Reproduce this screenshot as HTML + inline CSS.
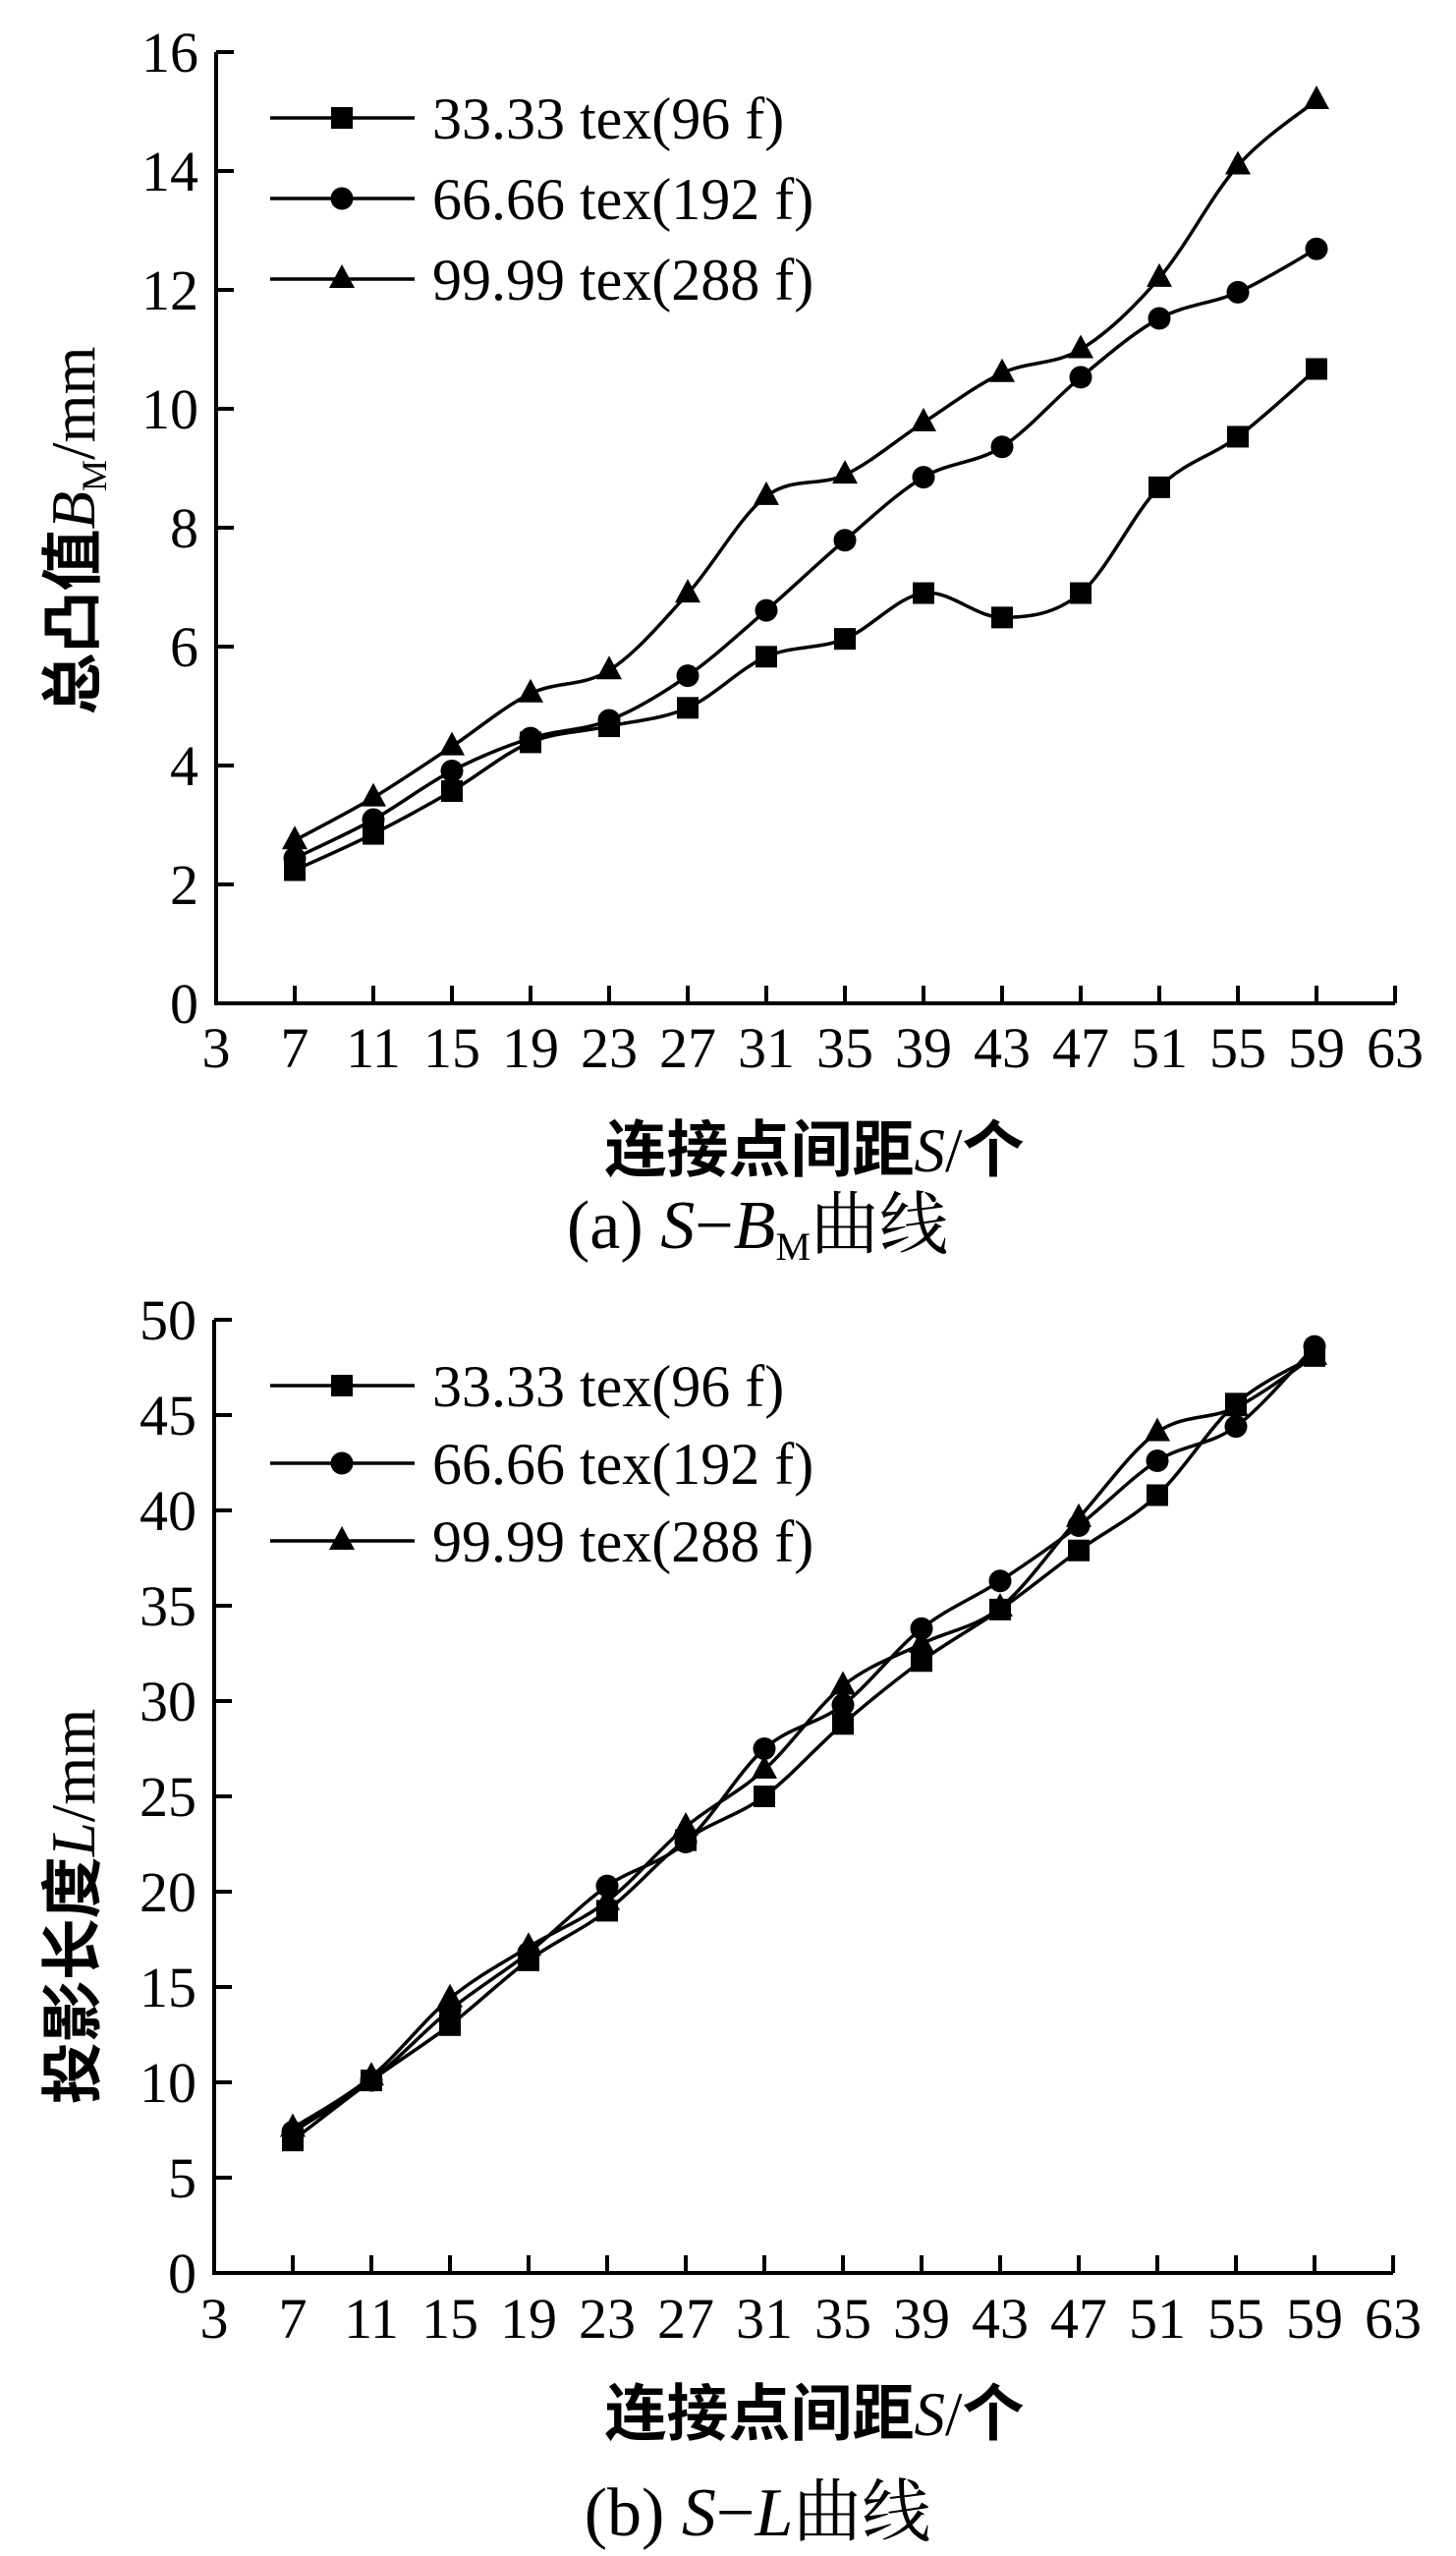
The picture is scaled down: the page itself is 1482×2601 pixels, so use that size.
<!DOCTYPE html>
<html><head><meta charset="utf-8"><style>
html,body{margin:0;padding:0;background:#fff}
svg{display:block}
text{font-family:"Liberation Serif","Noto Serif CJK SC",serif;fill:#000}
.t{font-size:58px}
.lg{font-size:60px}
.ti{font-size:63px;font-weight:bold;font-family:"Liberation Serif","Noto Sans CJK SC",sans-serif}
.cap{font-size:70px;font-family:"Liberation Serif","Noto Serif CJK SC",serif}
</style></head><body>
<svg id="s" width="1482" height="2601" viewBox="0 0 1482 2601" xmlns="http://www.w3.org/2000/svg">
<g id="ga"></g><g id="gb"></g>
<g class="t" text-anchor="end">
<text x="202" y="1041">0</text><text x="202" y="920">2</text><text x="202" y="799">4</text><text x="202" y="678">6</text><text x="202" y="557">8</text><text x="202" y="436">10</text><text x="202" y="315">12</text><text x="202" y="194">14</text><text x="202" y="73">16</text>
</g>
<g class="t" text-anchor="middle">
<text x="220" y="1086">3</text><text x="300" y="1086">7</text><text x="380" y="1086">11</text><text x="460" y="1086">15</text><text x="540" y="1086">19</text><text x="620" y="1086">23</text><text x="700" y="1086">27</text><text x="780" y="1086">31</text><text x="860" y="1086">35</text><text x="940" y="1086">39</text><text x="1020" y="1086">43</text><text x="1100" y="1086">47</text><text x="1180" y="1086">51</text><text x="1260" y="1086">55</text><text x="1340" y="1086">59</text><text x="1420" y="1086">63</text>
</g>
<g class="lg"><text x="440" y="141">33.33 tex(96 f)</text><text x="440" y="223">66.66 tex(192 f)</text><text x="440" y="305">99.99 tex(288 f)</text></g>
<text class="ti" transform="translate(96,540) rotate(-90)" text-anchor="middle">总凸值<tspan font-style="italic" font-weight="normal" font-family="Liberation Serif">B</tspan><tspan font-size="36" dy="12" font-weight="normal" font-family="Liberation Serif">M</tspan><tspan dy="-12" font-weight="normal" font-family="Liberation Serif">/mm</tspan></text>
<text class="ti" x="829" y="1192" text-anchor="middle">连接点间距<tspan font-style="italic" font-weight="normal" font-family="Liberation Serif">S</tspan><tspan font-weight="normal" font-family="Liberation Serif">/</tspan>个</text>
<text class="cap" x="771" y="1270" text-anchor="middle">(a) <tspan font-style="italic">S</tspan>−<tspan font-style="italic">B</tspan><tspan font-size="40" dy="12">M</tspan><tspan dy="-12">曲线</tspan></text>
<g class="t" text-anchor="end">
<text x="200" y="2333">0</text><text x="200" y="2236">5</text><text x="200" y="2139">10</text><text x="200" y="2042">15</text><text x="200" y="1945">20</text><text x="200" y="1848">25</text><text x="200" y="1751">30</text><text x="200" y="1654">35</text><text x="200" y="1557">40</text><text x="200" y="1460">45</text><text x="200" y="1363">50</text>
</g>
<g class="t" text-anchor="middle">
<text x="218" y="2379">3</text><text x="298" y="2379">7</text><text x="378" y="2379">11</text><text x="458" y="2379">15</text><text x="538" y="2379">19</text><text x="618" y="2379">23</text><text x="698" y="2379">27</text><text x="778" y="2379">31</text><text x="858" y="2379">35</text><text x="938" y="2379">39</text><text x="1018" y="2379">43</text><text x="1098" y="2379">47</text><text x="1178" y="2379">51</text><text x="1258" y="2379">55</text><text x="1338" y="2379">59</text><text x="1418" y="2379">63</text>
</g>
<g class="lg"><text x="440" y="1431">33.33 tex(96 f)</text><text x="440" y="1510">66.66 tex(192 f)</text><text x="440" y="1589">99.99 tex(288 f)</text></g>
<text class="ti" transform="translate(96,1940) rotate(-90)" text-anchor="middle">投影长度<tspan font-style="italic" font-weight="normal" font-family="Liberation Serif">L</tspan><tspan font-weight="normal" font-family="Liberation Serif">/mm</tspan></text>
<text class="ti" x="829" y="2478" text-anchor="middle">连接点间距<tspan font-style="italic" font-weight="normal" font-family="Liberation Serif">S</tspan><tspan font-weight="normal" font-family="Liberation Serif">/</tspan>个</text>
<text class="cap" x="771" y="2580" text-anchor="middle">(b) <tspan font-style="italic">S</tspan>−<tspan font-style="italic">L</tspan>曲线</text>
</svg>
<script>
var NS="http://www.w3.org/2000/svg";
function el(g,n,a){var e=document.createElementNS(NS,n);for(var k in a)e.setAttribute(k,a[k]);g.appendChild(e);return e;}
function marker(g,t,x,y){
 if(t==0)el(g,"rect",{x:x-11,y:y-11,width:22,height:22,fill:"#000"});
 else if(t==1)el(g,"circle",{cx:x,cy:y,r:11.5,fill:"#000"});
 else el(g,"polygon",{points:(x)+","+(y-15)+" "+(x-13)+","+(y+9)+" "+(x+13)+","+(y+9),fill:"#000"});
}
function chart(id,x0,y0,ytop,ymax,ystep,series,legY){
 var g=document.getElementById(id);
 var sx=function(v){return x0+(v-3)*20;};
 var sy=function(v){return y0-(y0-ytop)*v/ymax;};
 el(g,"polyline",{points:x0+","+ytop+" "+x0+","+y0+" "+(x0+1200)+","+y0,fill:"none",stroke:"#000","stroke-width":4});
 for(var v=ystep;v<=ymax+1e-9;v+=ystep){var yy=sy(v);el(g,"line",{x1:x0,y1:yy,x2:x0+18,y2:yy,stroke:"#000","stroke-width":4});}
 for(var s=7;s<=63;s+=4){var xx=sx(s);el(g,"line",{x1:xx,y1:y0,x2:xx,y2:y0-18,stroke:"#000","stroke-width":4});}
 var xs=[7,11,15,19,23,27,31,35,39,43,47,51,55,59];
 series.forEach(function(d,t){
  var p=xs.map(function(s,i){return [sx(s),sy(d[i])];});
  var str="M"+p[0][0]+","+p[0][1];
  for(var i=0;i<p.length-1;i++){
   var a=p[Math.max(i-1,0)],b=p[i],c=p[i+1],e=p[Math.min(i+2,p.length-1)];
   var k=1/6;
   str+=" C"+(b[0]+(c[0]-a[0])*k)+","+(b[1]+(c[1]-a[1])*k)+" "+(c[0]-(e[0]-b[0])*k)+","+(c[1]-(e[1]-b[1])*k)+" "+c[0]+","+c[1];
  }
  el(g,"path",{d:str,fill:"none",stroke:"#000","stroke-width":3.5});
  p.forEach(function(q){marker(g,t,q[0],q[1]);});
  var ly=legY[t];
  el(g,"line",{x1:275,y1:ly,x2:422,y2:ly,stroke:"#000","stroke-width":3.5});
  marker(g,t,348,ly);
 });
}
chart("ga",220,1021,53,16,2,[
 [2.24,2.85,3.57,4.39,4.66,4.97,5.83,6.13,6.90,6.49,6.90,8.68,9.53,10.67],
 [2.44,3.09,3.91,4.46,4.76,5.51,6.61,7.79,8.85,9.36,10.53,11.52,11.96,12.69],
 [2.74,3.46,4.32,5.21,5.60,6.89,8.53,8.89,9.77,10.6,11.0,12.2,14.09,15.19]],[120,202,284]);
chart("gb",218,2313,1343,50,5,[
 [6.95,10.1,13.0,16.4,19.0,22.7,25.0,28.8,32.1,34.8,37.9,40.8,45.6,48.1],
 [7.4,10.1,13.8,16.8,20.3,22.6,27.5,29.8,33.8,36.3,39.2,42.6,44.4,48.6],
 [7.6,10.3,14.4,17.1,19.5,23.4,26.4,30.8,33.0,34.9,39.6,44.1,45.4,48.1]],[1410,1489,1568]);
</script>
</body></html>
